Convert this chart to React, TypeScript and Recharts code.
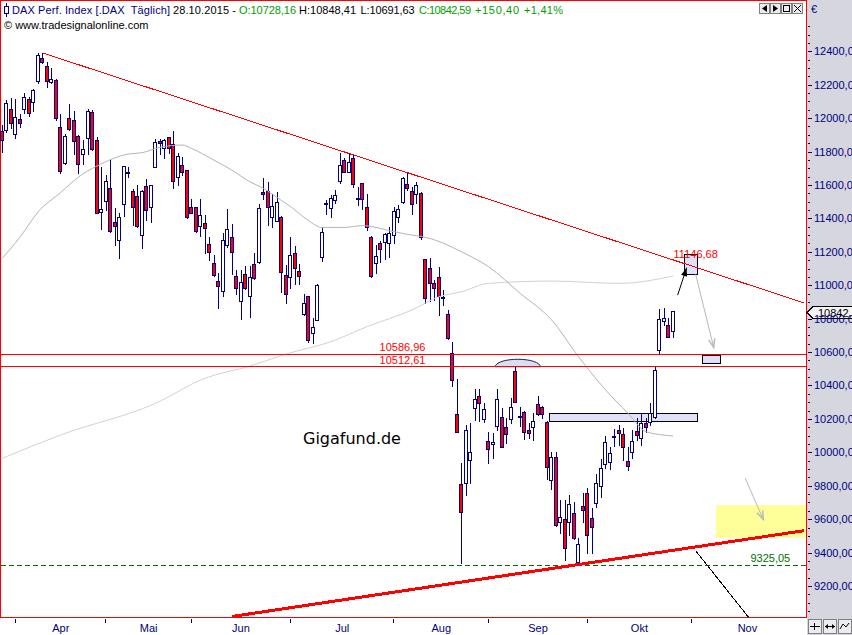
import React from "react";
import {
  ComposedChart,
  Bar,
  Line,
  XAxis,
  YAxis,
  ReferenceLine,
  ReferenceArea,
  ReferenceDot,
} from "recharts";

// DAX daily candles 27.03.2015 - 28.10.2015
const opens = [
  11923, 11927, 12053, 11905, 11993, 12056, 12112, 12098, 12222, 12358,
  12312, 12216, 12226, 11945, 11733, 11999, 11989, 11893, 11783, 11883,
  12036, 11867, 11440, 11506, 11580, 11376, 11269, 11484, 11680, 11564,
  11534, 11299, 11594, 11466, 11709, 11863, 11819, 11885, 11843, 11646,
  11719, 11689, 11466, 11466, 11356, 11370, 11245, 11131, 11023, 10967,
  11241, 11287, 11053, 10907, 11065, 10937, 11125, 11137, 11560, 11566,
  11410, 11386, 11410, 11061, 11051, 11191, 11085, 10826, 10935, 10712,
  10792, 11171, 11490, 11460, 11510, 11625, 11749, 11679, 11759, 11520,
  11610, 11466, 11290, 11131, 11251, 11257, 11251, 11300, 11406, 11500,
  11604, 11564, 11544, 11554, 11155, 11103, 11015, 11051, 10930, 10826,
  10592, 10227, 9809, 9815, 9954, 10267, 10337, 10197, 10069, 10048,
  10159, 10213, 10150, 10197, 10488, 10218, 10243, 10134, 10153, 10287,
  10273, 10183, 9834, 9974, 9581, 9599, 9585, 9635, 9345, 9679,
  9755, 9605, 9695, 9800, 9930, 9944, 10090, 10132, 10108, 9950,
  9999, 10129, 10084, 10174, 10183, 10213, 10612, 10788, 10762, 10728,
];
const highs = [
  11959, 12108, 12118, 12112, 12024, 12152, 12128, 12175, 12391, 12388,
  12337, 12298, 12232, 12024, 11905, 12084, 12042, 11900, 11869, 12054,
  12048, 11885, 11709, 11659, 11749, 11460, 11434, 11711, 11709, 11574,
  11600, 11570, 11634, 11600, 11873, 11873, 11873, 11889, 11923, 11789,
  11765, 11689, 11516, 11470, 11516, 11420, 11290, 11181, 11071, 11311,
  11454, 11366, 11091, 11091, 11117, 11117, 11191, 11484, 11640, 11616,
  11546, 11560, 11414, 11121, 11290, 11235, 11127, 10947, 10935, 10802,
  11007, 11346, 11510, 11540, 11570, 11793, 11759, 11789, 11779, 11589,
  11613, 11544, 11294, 11241, 11266, 11311, 11346, 11470, 11480, 11646,
  11670, 11589, 11619, 11560, 11157, 11161, 11031, 11111, 10971, 10852,
  10662, 10437, 9934, 10163, 10174, 10377, 10377, 10297, 10123, 10114,
  10377, 10263, 10204, 10323, 10513, 10273, 10245, 10177, 10233, 10339,
  10279, 10185, 10004, 10004, 9715, 9715, 9745, 9704, 9485, 9755,
  9785, 9665, 9870, 9958, 10100, 10030, 10140, 10165, 10144, 10034,
  10134, 10204, 10233, 10204, 10297, 10516, 10856, 10862, 10802, 10848,
];
const lows = [
  11799, 11920, 11939, 11879, 11948, 12032, 12012, 12044, 12212, 12328,
  12184, 12208, 11990, 11673, 11725, 11930, 11785, 11673, 11723, 11783,
  11810, 11430, 11334, 11450, 11320, 11241, 11165, 11416, 11649, 11360,
  11350, 11221, 11390, 11380, 11705, 11783, 11759, 11793, 11583, 11600,
  11659, 11404, 11430, 11320, 11294, 11191, 11151, 11057, 10865, 10935,
  11230, 11067, 10947, 10796, 10975, 10808, 11035, 11134, 11516, 11360,
  11350, 11384, 10961, 10895, 10981, 11005, 11005, 10822, 10662, 10652,
  10790, 11147, 11426, 11410, 11490, 11610, 11675, 11676, 11589, 11480,
  11454, 11330, 11051, 11071, 11141, 11157, 11171, 11251, 11380, 11490,
  11570, 11426, 11490, 11277, 10892, 10905, 10911, 10822, 10881, 10678,
  10399, 10120, 9336, 9745, 9815, 10193, 10187, 10183, 9934, 9964,
  10134, 10030, 10054, 10174, 10300, 10157, 10078, 10084, 10074, 10223,
  10207, 9838, 9779, 9560, 9515, 9356, 9505, 9479, 9325, 9585,
  9396, 9396, 9675, 9731, 9905, 9900, 10040, 10045, 9954, 9894,
  9964, 10074, 10044, 10121, 10163, 10203, 10588, 10762, 10688, 10692,
];
const closes = [
  11867, 12089, 11969, 12005, 11969, 12124, 12032, 12166, 12378, 12337,
  12224, 12232, 11999, 11685, 11893, 11935, 11865, 11723, 11815, 12042,
  11813, 11434, 11454, 11624, 11324, 11352, 11406, 11711, 11674, 11470,
  11352, 11562, 11448, 11598, 11855, 11849, 11869, 11819, 11625, 11773,
  11679, 11410, 11434, 11326, 11420, 11340, 11197, 11063, 10997, 11271,
  11336, 11197, 10985, 11017, 10981, 11047, 11041, 11464, 11544, 11470,
  11476, 11498, 11077, 10947, 11181, 11101, 11057, 10892, 10672, 10748,
  11001, 11317, 11484, 11520, 11540, 11719, 11679, 11739, 11604, 11514,
  11514, 11346, 11055, 11175, 11215, 11305, 11311, 11446, 11454, 11640,
  11580, 11486, 11600, 11290, 10922, 11015, 10985, 10935, 10922, 10682,
  10433, 10123, 9645, 10134, 10004, 10317, 10297, 10257, 10018, 10060,
  10317, 10034, 10110, 10269, 10303, 10210, 10123, 10114, 10189, 10227,
  10227, 9914, 9974, 9565, 9611, 9428, 9691, 9485, 9451, 9655,
  9505, 9551, 9815, 9904, 10064, 9993, 10096, 10117, 10034, 9918,
  10066, 10104, 10174, 10153, 10237, 10493, 10798, 10802, 10692, 10843,
];

// 150 trading days + empty future slots up to the right edge
const slotCount = 179;

const monthLabels = ["Apr", "Mai", "Jun", "Jul", "Aug", "Sep", "Okt", "Nov"];
const monthStart = [3, 23, 42, 64, 87, 108, 130, 153];
const monthEnd = [23, 42, 64, 87, 108, 130, 153, 178];

// moving averages (grey lines)
const maMidIdx = [0, 4, 8, 13, 17, 21, 28, 31, 35, 40, 42, 47, 51, 55, 58, 62, 64, 68, 71, 76, 80, 82, 87, 91, 94, 98, 102, 108, 115, 122, 128, 134, 139, 143, 149];
const maMidVal = [11161, 11290, 11440, 11556, 11649, 11713, 11785, 11793, 11825, 11839, 11819, 11749, 11689, 11619, 11580, 11507, 11471, 11387, 11346, 11346, 11357, 11351, 11320, 11300, 11287, 11251, 11200, 11111, 10952, 10792, 10572, 10373, 10233, 10123, 10098];
const maLongIdx = [0, 13, 34, 45, 55, 63, 73, 81, 91, 97, 102, 108, 122, 137, 149];
const maLongVal = [9964, 10104, 10293, 10443, 10516, 10588, 10662, 10752, 10852, 10931, 10961, 11011, 11025, 11011, 11055];

const yMin = 9014.5;
const yMax = 12707;
const plotW = 806;
const bandW = plotW / slotCount;
const navy = "#000080";
const font = "'Liberation Sans', Arial, sans-serif";

const data: any[] = [];
for (let i = 0; i < slotCount; i++) {
  const row: any = { i };
  if (i < closes.length) {
    row.range = [lows[i], highs[i]];
    row.o = opens[i];
    row.h = highs[i];
    row.l = lows[i];
    row.c = closes[i];
  }
  data.push(row);
}
maMidIdx.forEach((idx, k) => (data[idx].maMid = maMidVal[k]));
maLongIdx.forEach((idx, k) => (data[idx].maLong = maLongVal[k]));

const Candle = (props: any) => {
  const { x, y, width, height, payload } = props;
  if (!payload || payload.o == null) return null;
  const top = Math.min(y, y + height);
  const bot = Math.max(y, y + height);
  const span = payload.h - payload.l || 1;
  const py = (v: number) => top + ((payload.h - v) / span) * (bot - top);
  const cx = Math.floor(x + width / 2) + 0.5;
  const up = payload.c >= payload.o;
  let bt = Math.round(Math.min(py(payload.o), py(payload.c))) + 0.5;
  let bb = Math.round(Math.max(py(payload.o), py(payload.c))) + 0.5;
  if (bb - bt < 1) bb = bt + 1;
  return (
    <g shapeRendering="crispEdges">
      <line x1={cx} x2={cx} y1={Math.round(top)} y2={Math.round(bot) + 1} stroke={navy} />
      <rect x={cx - 2} y={bt} width={3} height={bb - bt} fill={up ? "#ffffff" : "#ff0000"} stroke={navy} />
    </g>
  );
};

const MonthTick = (props: any) => {
  const { x, y, payload } = props;
  const k = monthStart.indexOf(payload.value);
  if (k < 0) return null;
  const half = ((monthEnd[k] - monthStart[k]) * bandW) / 2;
  return (
    <g>
      <line x1={x} x2={x} y1={y + 2} y2={y + 6} stroke={navy} shapeRendering="crispEdges" />
      <text x={x + half} y={y + 15} textAnchor="middle" fill={navy} fontSize={11} fontFamily={font}>
        {monthLabels[k]}
      </text>
    </g>
  );
};

const PriceTick = (props: any) => {
  const { x, y, payload } = props;
  const v = payload.value;
  const major = v % 200 === 0 && v >= 9200 && v <= 12400;
  const yy = Math.round(y) + 0.5;
  return (
    <g>
      <line x1={x + 2} x2={x + (major ? 6 : 4)} y1={yy} y2={yy} stroke={navy} shapeRendering="crispEdges" />
      {major && (
        <text x={x + 8} y={y + 4} fill={navy} fontSize={11} fontFamily={font}>
          {v.toFixed(2).replace(".", ",")}
        </text>
      )}
    </g>
  );
};

const minorTicks: number[] = [];
for (let v = 9050; v <= 12550; v += 50) minorTicks.push(v);

const arrow = (color: string, filled: boolean) => (p: any) => {
  const { x1, y1, x2, y2 } = p;
  const a = Math.atan2(y2 - y1, x2 - x1);
  const L = 9;
  const ax = x2 - L * Math.cos(a - 0.35);
  const ay = y2 - L * Math.sin(a - 0.35);
  const bx = x2 - L * Math.cos(a + 0.35);
  const by = y2 - L * Math.sin(a + 0.35);
  return (
    <g>
      <line x1={x1} y1={y1} x2={x2} y2={y2} stroke={color} strokeWidth={1} />
      {filled ? (
        <polygon points={`${ax},${ay} ${x2},${y2} ${bx},${by}`} fill={color} />
      ) : (
        <polyline points={`${ax},${ay} ${x2},${y2} ${bx},${by}`} fill="none" stroke={color} strokeWidth={1.5} />
      )}
    </g>
  );
};

const dome = (p: any) => {
  const { x, y, width, height } = p;
  const b = y + height;
  return (
    <path
      d={`M${x},${b} A${width / 2},${height} 0 0 1 ${x + width},${b} Z`}
      fill="#dcdcf4"
      stroke="#202040"
    />
  );
};

const textMark = (label: string, color: string, anchor: string, dy: number) => (p: any) => (
  <text x={p.cx} y={p.cy + dy} fill={color} fontSize={11} fontFamily={font} textAnchor={anchor}>
    {label}
  </text>
);

const priceBox = (p: any) => {
  const cy = Math.round(p.cy) + 0.5;
  return (
    <g>
      <polygon
        points={`807,${cy} 813,${cy - 6} 853,${cy - 6} 853,${cy + 6} 813,${cy + 6}`}
        fill="#f4f4f4"
        stroke="#000"
        shapeRendering="crispEdges"
      />
      <text x={818} y={cy + 4} fontSize={11} fontFamily={font} fill="#000">
        10842,59
      </text>
    </g>
  );
};

const noDot = (p: any) => <g key={p.index} />;

const Btn = ({ x, y, w, h, children }: any) => (
  <g>
    <rect x={x + 0.5} y={y + 0.5} width={w} height={h} fill="#ececf0" stroke="#808080" shapeRendering="crispEdges" />
    {children}
  </g>
);

export default function App() {
  return (
    <div style={{ position: "absolute", left: 0, top: 0, width: 852, height: 635, background: "#fff", overflow: "hidden" }}>
      <div style={{ position: "absolute", left: 807, top: 0, width: 45, height: 635, background: "#d6d6de" }} />
      <div style={{ position: "absolute", left: 0, top: 0 }}>
        <ComposedChart width={852} height={635} data={data} margin={{ top: 0, right: 0, left: 0, bottom: 0 }}>
          <XAxis
            dataKey="i"
            type="category"
            ticks={monthStart}
            interval={0}
            tick={<MonthTick />}
            tickLine={false}
            axisLine={false}
            tickSize={0}
            tickMargin={0}
            height={18}
          />
          <YAxis
            orientation="right"
            domain={[yMin, yMax]}
            allowDataOverflow
            ticks={minorTicks}
            interval={0}
            tick={<PriceTick />}
            tickLine={false}
            axisLine={false}
            tickSize={0}
            tickMargin={0}
            width={46}
          />
          <ReferenceArea x1={159} x2={178} y1={9489} y2={9685} fill="#ffff99" fillOpacity={1} stroke="none" />
          <Bar dataKey="range" shape={<Candle />} isAnimationActive={false} />
          <Line dataKey="maLong" stroke="#d2d2d2" dot={noDot} activeDot={false} connectNulls type="monotone" isAnimationActive={false} />
          <Line dataKey="maMid" stroke="#b4b4b4" dot={noDot} activeDot={false} connectNulls type="monotone" isAnimationActive={false} />

          <ReferenceLine y={10586.96} stroke="#ff0000" shapeRendering="crispEdges" />
          <ReferenceLine y={10512.61} stroke="#ff0000" shapeRendering="crispEdges" />
          <ReferenceLine y={9325.05} stroke="#007000" strokeDasharray="5 3" shapeRendering="crispEdges" />
          <ReferenceLine segment={[{ x: 9, y: 12390 }, { x: 178, y: 10895 }]} stroke="#ff0000" shapeRendering="crispEdges" />
          <ReferenceLine segment={[{ x: 51, y: 9017.5 }, { x: 178, y: 9531 }]} stroke="#ff0000" strokeWidth={3} shapeRendering="crispEdges" />
          <ReferenceLine segment={[{ x: 154, y: 9411 }, { x: 166, y: 9004 }]} stroke="#000" ifOverflow="hidden" shapeRendering="crispEdges" />

          <ReferenceArea x1={122} x2={154} y1={10183} y2={10233} fill="#e0e0f8" fillOpacity={1} stroke="#000" shapeRendering="crispEdges" />
          <ReferenceArea x1={156} x2={159} y1={10533} y2={10582} fill="#e0e0f8" fillOpacity={1} stroke="#000" shapeRendering="crispEdges" />
          <ReferenceArea x1={152} x2={154} y1={11065} y2={11181} fill="#e0e0f8" fillOpacity={1} stroke="#000" shapeRendering="crispEdges" />
          <ReferenceArea x1={110} x2={119} y1={10512.61} y2={10557} shape={dome} />

          <ReferenceLine segment={[{ x: 150, y: 10941 }, { x: 152, y: 11105 }]} shape={arrow("#000", true)} />
          <ReferenceLine segment={[{ x: 154, y: 11065 }, { x: 158, y: 10628 }]} shape={arrow("#b8b8b8", false)} />
          <ReferenceLine segment={[{ x: 165, y: 9846 }, { x: 169, y: 9599 }]} shape={arrow("#b8b8b8", false)} />

          <ReferenceDot x={94} y={10586.96} r={0} shape={textMark("10586,96", "#ff0000", "end", -3)} />
          <ReferenceDot x={94} y={10512.61} r={0} shape={textMark("10512,61", "#ff0000", "end", -3)} />
          <ReferenceDot x={154} y={11146.68} r={0} shape={textMark("11146,68", "#ff0000", "middle", -3)} />
          <ReferenceDot x={175} y={9325.05} r={0} shape={textMark("9325,05", "#007000", "end", -3)} />
          <ReferenceDot x={149} y={10842.59} r={0} shape={priceBox} />

          <ReferenceArea x1={0} x2={178} y1={yMin} y2={yMax} fill="none" stroke="#ff0000" shapeRendering="crispEdges" />
        </ComposedChart>
      </div>
      <svg width={852} height={635} style={{ position: "absolute", left: 0, top: 0, pointerEvents: "none" }}>
        <g shapeRendering="crispEdges">
          <line x1={6.5} x2={6.5} y1={3} y2={17} stroke={navy} />
          <rect x={4.5} y={6.5} width={4} height={7} fill="#fff" stroke={navy} />
        </g>
        <text y={14} fontSize={11} fontFamily={font} style={{ whiteSpace: "pre" }} lengthAdjust="spacingAndGlyphs">
          <tspan x={12} fill={navy} textLength={158}>DAX Perf. Index [.DAX  Täglich]</tspan>
          <tspan x={173} fill="#000" textLength={63}>28.10.2015 -</tspan>
          <tspan x={239} fill="#00a000" textLength={57}>O:10728,16</tspan>
          <tspan x={299} fill="#000" textLength={57}>H:10848,41</tspan>
          <tspan x={360.5} fill="#000" textLength={54}>L:10691,63</tspan>
          <tspan x={419} fill="#00a000" textLength={52}>C:10842,59</tspan>
          <tspan x={475} fill="#00a000" textLength={44}>+150,40</tspan>
          <tspan x={524} fill="#00a000" textLength={39}>+1,41%</tspan>
        </text>
        <text x={4} y={29} fontSize={11} fontFamily={font} fill="#000">
          © www.tradesignalonline.com
        </text>
        <text x={303} y={444} fontSize={16} fontFamily="'DejaVu Sans', sans-serif" fill="#000">
          Gigafund.de
        </text>
        <text x={811} y={13} fontSize={11} fontFamily={font} fill={navy}>€</text>

        <Btn x={759} y={3} w={10} h={10}>
          <polygon points="762,8.5 767,5 767,12" fill="#000" />
        </Btn>
        <Btn x={770} y={3} w={10} h={10}>
          <polygon points="778,8.5 773,5 773,12" fill="#000" />
        </Btn>
        <Btn x={781} y={3} w={10} h={10}>
          <rect x={783.5} y={5.5} width={6} height={6} fill="none" stroke="#000" shapeRendering="crispEdges" />
        </Btn>
        <Btn x={792} y={3} w={10} h={10}>
          <line x1={794} y1={5} x2={801} y2={12} stroke="#000" />
          <line x1={801} y1={5} x2={794} y2={12} stroke="#000" />
        </Btn>

        <Btn x={808} y={619} w={13} h={14}>
          <line x1={810} y1={626.5} x2={820} y2={626.5} stroke="#000" />
          <line x1={814.5} y1={623} x2={814.5} y2={630} stroke="#000" />
        </Btn>
        <Btn x={823} y={619} w={13} h={14}>
          <line x1={825} y1={626.5} x2={835} y2={626.5} stroke="#000" />
          <polygon points="825,626.5 828,624 828,629" fill="#000" />
          <polygon points="835,626.5 832,624 832,629" fill="#000" />
        </Btn>
        <Btn x={838} y={619} w={13} h={14}>
          <polyline points="840,629 843,624 846,627 849,623" fill="none" stroke="#000" />
        </Btn>
      </svg>
    </div>
  );
}
